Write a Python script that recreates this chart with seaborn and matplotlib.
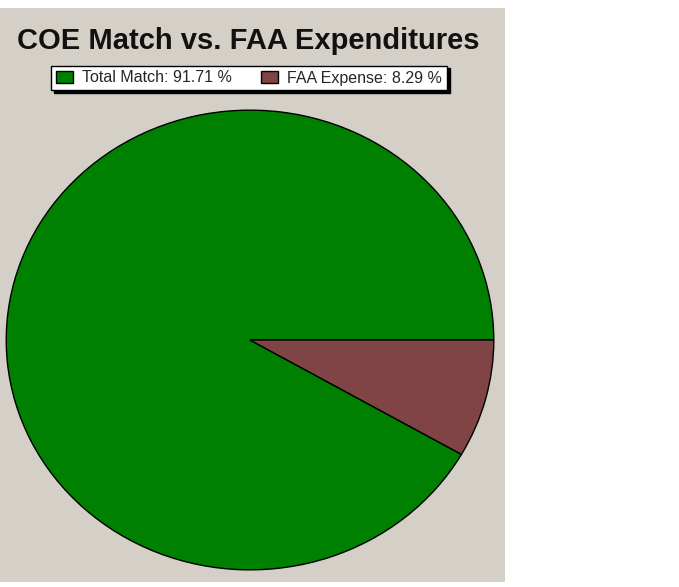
import matplotlib
matplotlib.use("Agg")
import matplotlib.pyplot as plt
from matplotlib.patches import Rectangle
import seaborn as sns

# chart data
categories = ["Total Match", "FAA Expense"]
percentages = [91.71, 8.29]
slice_colors = ["#008000", "#804444"]

sns.set_theme(style="white")
plt.rcParams["font.family"] = ["Liberation Sans", "DejaVu Sans"]

W, H = 679, 587
fig = plt.figure(figsize=(W / 100, H / 100), dpi=100)
fig.patch.set_facecolor("white")

# gray chart background
fig.patches.append(Rectangle((0, 1 - 582 / H), 505 / W, 574 / H,
                             transform=fig.transFigure, facecolor="#d4d0c8",
                             edgecolor="none", zorder=-1))

# pie (stretched into an ellipse)
ax = fig.add_axes([5 / W, (H - 571) / H, 490 / W, 462 / H])
ax.set_facecolor("none")
wedges, _ = ax.pie(percentages, colors=slice_colors, startangle=0,
                   counterclock=True,
                   wedgeprops=dict(edgecolor="black", linewidth=1.0))
ax.set_aspect("auto")
ax.set_xlim(-1.005, 1.005)
ax.set_ylim(-1.005, 1.005)
ax.axis("off")

# title
fig.text(248 / W, 1 - 49 / H, "COE Match vs. FAA Expenditures",
         ha="center", va="baseline", fontsize=21, fontweight="bold",
         color="#111111")

# legend
labels = [f"{c}: {p:.2f} %" for c, p in zip(categories, percentages)]
leg = fig.legend(wedges, labels, loc="center", ncol=2,
                 bbox_to_anchor=(249 / W, 1 - 78 / H), fontsize=11.5,
                 frameon=True, fancybox=False,
                 shadow={"color": "black", "alpha": 1},
                 handlelength=1.05, handleheight=0.75, handletextpad=0.6,
                 columnspacing=1.8, borderpad=0.3, borderaxespad=0)
leg.get_frame().set_edgecolor("black")
leg.get_frame().set_linewidth(1.0)
leg.get_frame().set_facecolor("white")
for h in leg.legend_handles:
    h.set_edgecolor("black")

fig.savefig("out.png", dpi=100)
